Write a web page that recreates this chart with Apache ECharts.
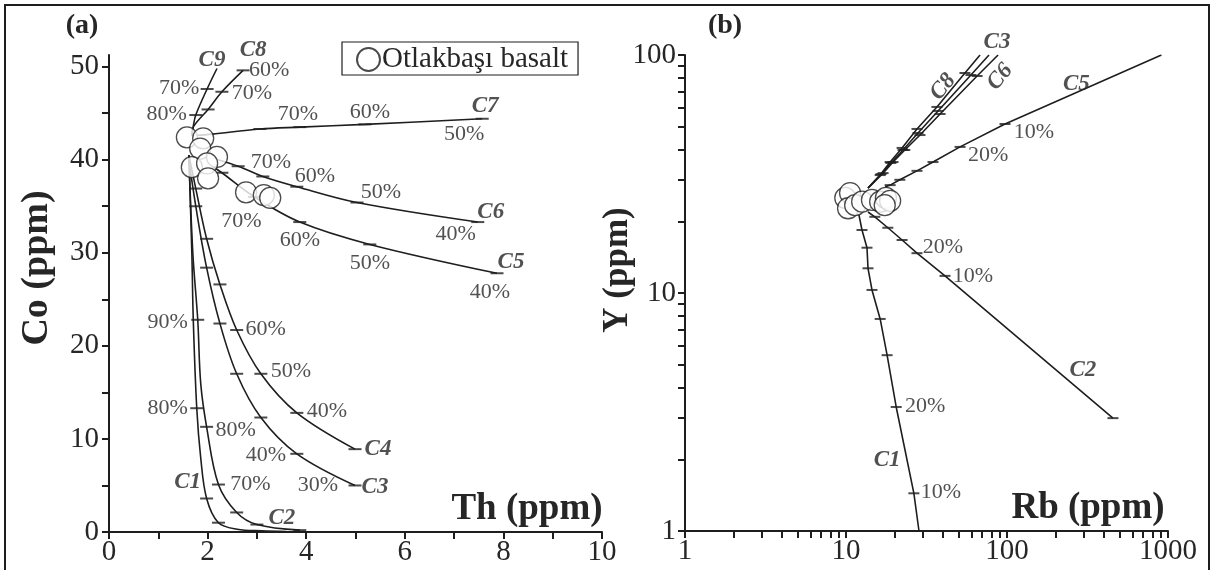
<!DOCTYPE html>
<html><head><meta charset="utf-8">
<script src="https://cdn.jsdelivr.net/npm/echarts@6/dist/echarts.min.js"></script>
<style>html,body{margin:0;padding:0;background:#fff}#c{width:1214px;height:570px}</style>
</head><body><div id="c"></div>
<script>
// ---------------- DATA ----------------
// Panel (a): Th (ppm) vs Co (ppm)
const basaltTh = [1.58,1.91,1.85,2.19,1.68,1.99,2.01,2.78,3.14,3.27];
const basaltCo = [42.4,42.3,41.2,40.3,39.2,39.6,38.0,36.5,36.2,35.9];
// Panel (b): Rb (ppm) vs Y (ppm)
const basaltRb = [9.9,10.6,10.3,11.4,12.6,14.5,16.3,17.7,18.8,17.4];
const basaltY  = [25.1,26.3,22.7,23.4,24.2,24.6,24.2,25.1,24.4,23.4];

// model curves, panel (a); pct: null = plain vertex, '' = unlabeled tick, text = labeled tick
const a_C1_Th = [1.62,1.68,1.71,1.78,1.86,1.98,2.22,2.6,3.1,3.6];
const a_C1_Co = [40.5,30,22.7,13.3,8.0,3.6,1.0,0.3,0.12,0.05];
const a_C1_pct = [null,null,null,'80%',null,'','',null,null,null];
const a_C2_Th = [1.62,1.70,1.80,1.86,1.98,2.22,2.59,3.0,3.87];
const a_C2_Co = [40.5,30,22.8,16.0,11.3,5.1,2.1,0.8,0.2];
const a_C2_pct = [null,null,'90%',null,'80%','70%','','',''];
const a_C3_Th = [1.62,1.76,1.98,2.25,2.59,3.08,3.81,4.99];
const a_C3_Co = [40.0,35.0,28.4,22.4,17.0,12.3,8.4,5.0];
const a_C3_pct = [null,'','','','','','40%','30%'];
const a_C4_Th = [1.62,1.76,1.98,2.25,2.59,3.08,3.81,4.99];
const a_C4_Co = [40.5,36.9,31.5,26.6,21.7,17.0,12.8,8.9];
const a_C4_pct = [null,'','','','60%','50%','40%',''];
const a_C5_Th = [2.1,2.29,2.95,3.87,5.29,7.87];
const a_C5_Co = [39.3,38.6,36.0,33.3,30.9,27.8];
const a_C5_pct = [null,'','70%','60%','50%','40%'];
const a_C6_Th = [2.2,2.62,3.12,3.81,5.03,7.48];
const a_C6_Co = [40.0,39.3,38.2,37.1,35.4,33.3];
const a_C6_pct = [null,'','70%','60%','50%','40%'];
const a_C7_Th = [1.75,2.09,3.06,3.87,5.19,7.57];
const a_C7_Co = [42.6,42.75,43.3,43.5,43.8,44.4];
const a_C7_pct = [null,null,'','70%','60%','50%'];
const a_C8_Th = [1.68,1.72,2.01,2.29,2.72];
const a_C8_Co = [42.6,43.6,45.4,47.3,49.6];
const a_C8_pct = [null,null,'','70%','60%'];
const a_C9_Th = [1.68,1.71,1.76,1.99,2.19];
const a_C9_Co = [42.6,43.6,44.8,47.6,49.8];
const a_C9_pct = [null,null,'80%','70%',null];

// model curves, panel (b)
const b_C1_Rb = [12.0,12.57,13.5,13.7,14.5,16.3,18.0,20.5,26.4,28.4];
const b_C1_Y  = [21.5,18.4,15.5,12.7,10.3,7.78,5.48,3.32,1.44,1.0];
const b_C1_pct = [null,'','','','','','','20%','10%',null];
const b_C2_Rb = [13.7,15.1,18.2,22.3,27.6,41.2,455];
const b_C2_Y  = [21.9,20.9,18.8,16.7,14.7,11.8,2.98];
const b_C2_pct = [null,'','','','20%','10%',''];
const b_C3_Rb = [13.7,16.5,19.0,22.6,28.0,37.3,59.7,77.3];
const b_C3_Y  = [27.6,31.6,35.2,39.9,47.0,58.2,82.4,100];
const b_C3_pct = [null,'','','','','','',null];
const b_C5_Rb = [17.5,18.8,21.6,27.6,34.7,51.1,97.2,910];
const b_C5_Y  = [27.9,28.4,29.9,32.6,35.5,41.1,51.3,100];
const b_C5_pct = [null,'','','','','20%','10%',null];
const b_C6_Rb = [13.7,17.0,19.6,23.2,28.8,38.4,65.2,88];
const b_C6_Y  = [27.6,31.9,35.5,39.9,46.1,56.5,81.6,100];
const b_C6_pct = [null,'','','','','','',null];
const b_C8_Rb = [13.7,16.3,18.8,22.3,27.6,36.7,54.8,68];
const b_C8_Y  = [27.6,31.3,35.5,40.7,48.9,60.5,84.0,100];
const b_C8_pct = [null,'','','','','','',null];

// tick values / labels
const thTicks = [0,1,2,3,4,5,6,7,8,9,10];
const thLabels = [0,2,4,6,8,10];
const coTicks = [0,5,10,15,20,25,30,35,40,45,50];
const coLabels = [0,10,20,30,40,50];
const rbTicks = [1,2,3,4,5,6,7,8,9,10,20,30,40,50,60,70,80,90,100,200,300,400,500,600,700,800,900,1000];
const yTicks = [1,2,3,4,5,6,7,8,9,10,20,30,40,50,60,70,80,90,100];

// ---------------- STYLE / LAYOUT ----------------
const FONT = 'Liberation Serif';
const INK = '#1e1e1e';
const TXT = '#262626';
// label offsets (px, label centre relative to its tick)
const PCT_OFF = {
  'aC1|80%':[-29,0],
  'aC2|90%':[-30,2],'aC2|80%':[29,3],'aC2|70%':[32,0],
  'aC3|40%':[-31,1],'aC3|30%':[-37,0],
  'aC4|60%':[29,-1],'aC4|50%':[30,-3],'aC4|40%':[30,-2],
  'aC5|70%':[-13,24],'aC5|60%':[0,18],'aC5|50%':[0,19],'aC5|40%':[-7,19],
  'aC6|70%':[8,-14],'aC6|60%':[18,-10],'aC6|50%':[24,-10],'aC6|40%':[-22,12],
  'aC7|70%':[-2,-13],'aC7|60%':[5,-12],'aC7|50%':[-18,15],
  'aC8|70%':[30,1],'aC8|60%':[26,0],
  'aC9|80%':[-29,-1],'aC9|70%':[-28,-1],
  'bC1|20%':[29,-1],'bC1|10%':[27,-1],
  'bC2|20%':[26,-6],'bC2|10%':[28,0],
  'bC5|20%':[28,8],'bC5|10%':[29,8]
};
// curve-name label anchor (vertex index, -1 = last), screen offset and rotation
const NAME_OFF = {
  aC1:{at:5,off:[-19,-16]}, aC2:{at:7,off:[25,-6]}, aC3:{at:-1,off:[20,2]}, aC4:{at:-1,off:[23,0]},
  aC5:{at:-1,off:[14,-11]}, aC6:{at:-1,off:[13,-10]}, aC7:{at:-1,off:[3,-13]}, aC8:{at:-1,off:[10,-20]},
  aC9:{at:-1,off:[-5,-8]},
  bC1:{at:7,off:[-9,53]}, bC2:{at:-1,off:[-30,-48]}, bC3:{at:-1,off:[8,-13]}, bC5:{at:-1,off:[-85,29]},
  bC6:{at:-1,off:[2,22],rot:50}, bC8:{at:-1,off:[-37,32],rot:50}
};
// offsets of rotated labels are applied in the rotated frame: convert screen offset
function localOffset(off, deg) {
  const r = deg * Math.PI / 180, c = Math.cos(r), s = Math.sin(r);
  return [off[0]*c - off[1]*s, off[0]*s + off[1]*c];
}

const series = [];
function addCurve(panel, name, xs, ys, pcts) {
  const ax = panel === 'a' ? 0 : 1;
  const key = panel + name;
  series.push({
    type:'line', xAxisIndex:ax, yAxisIndex:ax, silent:true, z:2,
    smooth: panel === 'a' ? 0.35 : false, symbol:'none',
    lineStyle:{color:INK, width:1.6},
    data: xs.map((x,i)=>[x, ys[i]])
  });
  const ticks = [];
  xs.forEach((x,i)=>{
    if (pcts[i] === null) return;
    const t = pcts[i];
    ticks.push({value:[x, ys[i]], label: t ? {show:true, formatter:t, offset: PCT_OFF[key+'|'+t] || [0,0]} : {show:false}});
  });
  series.push({
    type:'scatter', xAxisIndex:ax, yAxisIndex:ax, silent:true, z:3,
    symbol:'rect', symbolSize: panel === 'a' ? [13,2] : [11,2],
    itemStyle:{color:INK},
    label:{position:'inside', color:TXT, fontFamily:FONT, fontSize:22},
    data: ticks
  });
  const n = NAME_OFF[key];
  const idx = n.at < 0 ? xs.length - 1 : n.at;
  const rot = n.rot || 0;
  series.push({
    type:'scatter', xAxisIndex:ax, yAxisIndex:ax, silent:true, z:4,
    symbol:'circle', symbolSize:0, itemStyle:{color:'rgba(0,0,0,0)'},
    data:[{value:[xs[idx], ys[idx]], label:{show:true, formatter:name, position:'inside',
      offset: rot ? localOffset(n.off, rot) : n.off, rotate:rot, color:TXT, fontFamily:FONT, fontSize:23,
      fontStyle:'italic', fontWeight:'bold'}}]
  });
}
addCurve('a','C1',a_C1_Th,a_C1_Co,a_C1_pct);
addCurve('a','C2',a_C2_Th,a_C2_Co,a_C2_pct);
addCurve('a','C3',a_C3_Th,a_C3_Co,a_C3_pct);
addCurve('a','C4',a_C4_Th,a_C4_Co,a_C4_pct);
addCurve('a','C5',a_C5_Th,a_C5_Co,a_C5_pct);
addCurve('a','C6',a_C6_Th,a_C6_Co,a_C6_pct);
addCurve('a','C7',a_C7_Th,a_C7_Co,a_C7_pct);
addCurve('a','C8',a_C8_Th,a_C8_Co,a_C8_pct);
addCurve('a','C9',a_C9_Th,a_C9_Co,a_C9_pct);
addCurve('b','C1',b_C1_Rb,b_C1_Y,b_C1_pct);
addCurve('b','C2',b_C2_Rb,b_C2_Y,b_C2_pct);
addCurve('b','C3',b_C3_Rb,b_C3_Y,b_C3_pct);
addCurve('b','C5',b_C5_Rb,b_C5_Y,b_C5_pct);
addCurve('b','C6',b_C6_Rb,b_C6_Y,b_C6_pct);
addCurve('b','C8',b_C8_Rb,b_C8_Y,b_C8_pct);

const circleStyle = {color:'#fff', borderColor:INK, borderWidth:1.3};
series.push({name:'Otlakbaşı basalt', type:'scatter', xAxisIndex:0, yAxisIndex:0, z:6,
  symbol:'circle', symbolSize:21, itemStyle:circleStyle,
  data: basaltTh.map((x,i)=>[x, basaltCo[i]])});
series.push({name:'Otlakbaşı basalt', type:'scatter', xAxisIndex:1, yAxisIndex:1, z:6,
  symbol:'circle', symbolSize:21, itemStyle:circleStyle,
  data: basaltRb.map((x,i)=>[x, basaltY[i]])});

const axLine = {show:true, onZero:false, lineStyle:{color:INK, width:2}};
const tickStyle = {lineStyle:{color:INK, width:2}};
const lbl = {fontFamily:FONT, fontSize:29, color:TXT};

const option = {
  animation:false,
  backgroundColor:'#fff',
  legend:{data:['Otlakbaşı basalt'], left:342, top:42, orient:'horizontal',
    borderColor:INK, borderWidth:1.2, padding:[3,10,1,14], itemWidth:23, itemHeight:23, itemGap:0,
    textStyle:{fontFamily:FONT, fontSize:29, color:TXT, padding:[0,0,0,-3]}},
  grid:[
    {left:109, top:55, width:493, height:477},
    {left:685, top:55, width:483, height:476}
  ],
  xAxis:[
    {type:'value', gridIndex:0, min:0, max:10, axisLine:axLine,
     axisTick:Object.assign({show:true, length:7, customValues:thTicks}, tickStyle),
     axisLabel:Object.assign({customValues:thLabels, margin:6}, lbl), splitLine:{show:false}},
    {type:'log', gridIndex:1, min:1, max:1000, logBase:10, axisLine:axLine,
     axisTick:{show:false}, axisLabel:Object.assign({margin:6, formatter:v=>String(Math.round(v))}, lbl),
     splitLine:{show:false}, minorSplitLine:{show:false}},
    {type:'value', gridIndex:1, min:0, max:3, position:'bottom', axisLine:{show:false, onZero:false},
     axisTick:Object.assign({show:true, length:7, customValues:rbTicks.map(Math.log10)}, tickStyle),
     axisLabel:{show:false}, splitLine:{show:false}}
  ],
  yAxis:[
    {type:'value', gridIndex:0, min:0, max:51.25, axisLine:axLine,
     axisTick:Object.assign({show:true, length:7, customValues:coTicks}, tickStyle),
     axisLabel:Object.assign({customValues:coLabels, margin:10}, lbl), splitLine:{show:false}},
    {type:'log', gridIndex:1, min:1, max:100, logBase:10, axisLine:axLine,
     axisTick:{show:false}, axisLabel:Object.assign({margin:9, formatter:v=>String(Math.round(v))}, lbl),
     splitLine:{show:false}},
    {type:'value', gridIndex:1, min:0, max:2, position:'left', axisLine:{show:false, onZero:false},
     axisTick:Object.assign({show:true, length:7, customValues:yTicks.map(Math.log10)}, tickStyle),
     axisLabel:{show:false}, splitLine:{show:false}}
  ],
  graphic:[
    {type:'rect', shape:{x:5, y:5, width:1204, height:620}, style:{fill:'none', stroke:INK, lineWidth:2}, silent:true},
    {type:'text', x:82, y:26, style:{text:'(a)', fontFamily:FONT, fontWeight:'bold', fontSize:28, fill:TXT, align:'center', verticalAlign:'middle'}},
    {type:'text', x:725, y:26, style:{text:'(b)', fontFamily:FONT, fontWeight:'bold', fontSize:28, fill:TXT, align:'center', verticalAlign:'middle'}},
    {type:'text', x:37, y:268, rotation:Math.PI/2, style:{text:'Co (ppm)', fontFamily:FONT, fontWeight:'bold', fontSize:38, fill:TXT, align:'center', verticalAlign:'middle'}},
    {type:'text', x:618, y:270, rotation:Math.PI/2, style:{text:'Y (ppm)', fontFamily:FONT, fontWeight:'bold', fontSize:35, fill:TXT, align:'center', verticalAlign:'middle'}},
    {type:'text', x:527, y:509, style:{text:'Th (ppm)', fontFamily:FONT, fontWeight:'bold', fontSize:37, fill:TXT, align:'center', verticalAlign:'middle'}},
    {type:'text', x:1088, y:508, style:{text:'Rb (ppm)', fontFamily:FONT, fontWeight:'bold', fontSize:37, fill:TXT, align:'center', verticalAlign:'middle'}}
  ],
  series: series
};
const chart = echarts.init(document.getElementById('c'), null, {renderer:'canvas'});
chart.setOption(option);
</script></body></html>
